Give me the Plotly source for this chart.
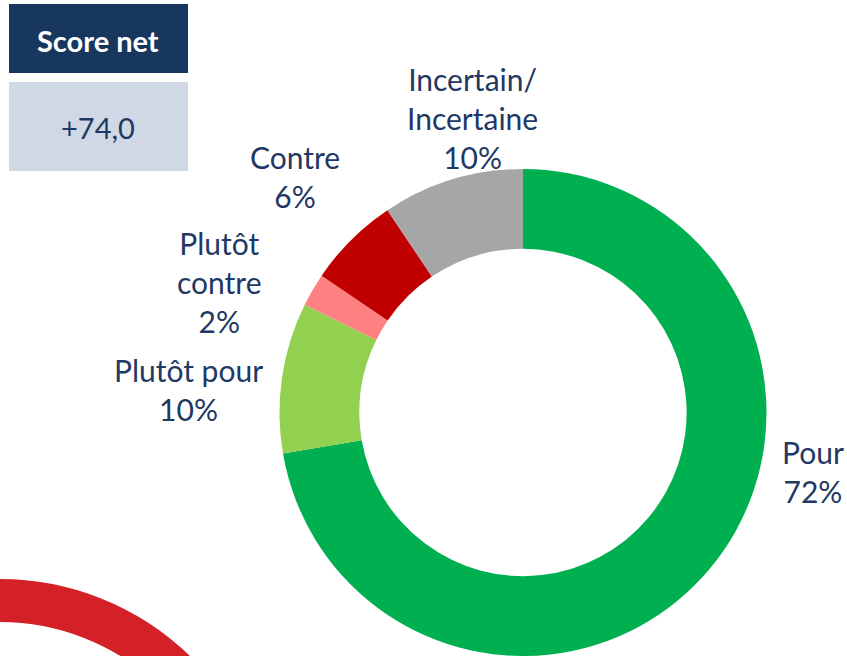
import plotly.graph_objects as go

W, H = 847, 656

categories = ["Pour", "Plutôt pour", "Plutôt contre", "Contre", "Incertain/ Incertaine"]
label_texts = ["Pour", "Plutôt pour", "Plutôt<br>contre", "Contre", "Incertain/<br>Incertaine"]
values = [72.3, 10.0, 2.2, 6.1, 9.4]          # slice sizes
label_pcts = ["72%", "10%", "2%", "6%", "10%"]  # percentages as printed
colors = ["#00B050", "#92D050", "#FF8080", "#C00000", "#A6A6A6"]
score_title = "Score net"
score_value = "+74,0"

NAVY = "#1F3864"
FONT = "Lato"

def px(x):
    return x / W

def py(y):
    return 1 - y / H

fig = go.Figure()

# donut: centre (523, 413) px, outer radius ~244 px
cx, cy, r = 523, 413, 244
fig.add_trace(go.Pie(
    labels=categories,
    values=values,
    marker=dict(colors=colors, line=dict(width=0)),
    hole=0.672,
    sort=False,
    direction="clockwise",
    rotation=0,
    textinfo="none",
    hoverinfo="label+percent",
    showlegend=False,
    domain=dict(x=[px(cx - r), px(cx + r)], y=[0, py(cy - r)]),
))

# labels (name + percentage) next to the slices
label_pos = [(813, 471), (188, 389), (220, 282), (295, 177), (473, 118)]
for name, pct, (lx, ly) in zip(label_texts, label_pcts, label_pos):
    fig.add_annotation(
        x=px(lx), y=py(ly), xref="paper", yref="paper",
        text=f"{name}<br>{pct}", showarrow=False,
        font=dict(family=FONT, size=30, color=NAVY),
        align="center", xanchor="center", yanchor="middle",
    )

shapes = []
# score boxes
shapes.append(dict(type="rect", xref="paper", yref="paper",
                   x0=px(9), x1=px(188), y0=py(73), y1=py(4),
                   fillcolor="#17375E", line=dict(width=0)))
shapes.append(dict(type="rect", xref="paper", yref="paper",
                   x0=px(9), x1=px(188), y0=py(171), y1=py(82),
                   fillcolor="#D0D8E6", line=dict(width=0)))
# decorative red ring, bottom-left
rc_x, rc_y, rr = 0, 852, 251.5
shapes.append(dict(type="circle", xref="paper", yref="paper",
                   x0=px(rc_x - rr), x1=px(rc_x + rr),
                   y0=py(rc_y + rr), y1=py(rc_y - rr),
                   line=dict(color="#D42027", width=43), fillcolor="rgba(0,0,0,0)"))
fig.update_layout(shapes=shapes)

fig.add_annotation(x=px(98), y=py(40), xref="paper", yref="paper",
                   text=f"<b>{score_title}</b>", showarrow=False,
                   font=dict(family=FONT, size=29, color="white"),
                   xanchor="center", yanchor="middle")
fig.add_annotation(x=px(98), y=py(127), xref="paper", yref="paper",
                   text=score_value, showarrow=False,
                   font=dict(family=FONT, size=29, color=NAVY),
                   xanchor="center", yanchor="middle")

fig.update_layout(
    width=W, height=H,
    margin=dict(l=0, r=0, t=0, b=0),
    paper_bgcolor="white", plot_bgcolor="white",
)

fig.write_html("out.html",
               config={"displayModeBar": False},
               post_script="document.body.style.margin='0';document.body.style.overflow='hidden';")
